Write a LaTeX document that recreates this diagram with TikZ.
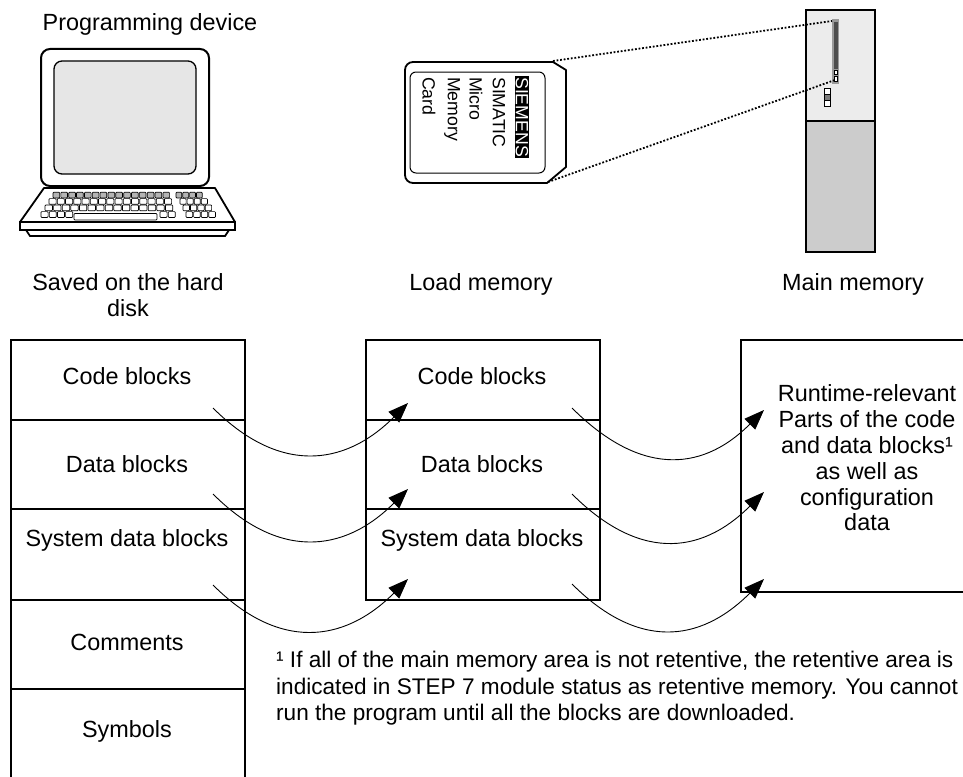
\documentclass[tikz,border=0pt]{standalone}
\usepackage{fontspec}
\setmainfont{Liberation Sans}
\usetikzlibrary{arrows.meta}
\definecolor{screengray}{HTML}{E6E6E6}
\definecolor{keygray}{HTML}{B4B4B4}
\definecolor{modlight}{HTML}{ECECEC}
\definecolor{moddark}{HTML}{CCCCCC}
\definecolor{slotrim}{HTML}{9A9A9A}
\definecolor{slotcore}{HTML}{4D4D4D}
\begin{document}
\begin{tikzpicture}[x=1pt,y=-1pt,
  txt/.style={font=\fontsize{23.4}{25.8}\selectfont, inner sep=0pt},
  lbl/.style={txt, anchor=base},
  cell/.style={draw, line width=1.7pt, minimum width=234pt, inner sep=0pt, anchor=north west},
  flow/.style={line width=0.9pt, -{Triangle[length=20pt,width=15pt]}},
  dots/.style={line width=1.8pt, dash pattern=on 1.8pt off 1.8pt},
  key/.style={draw, line width=0.7pt, rounded corners=0.8pt},
  cardtxt/.style={font=\fontsize{17.7}{20}\selectfont, rotate=-90, anchor=west, inner sep=0pt}]
\useasboundingbox (0,0) rectangle (963,776);
\clip (0,0) rectangle (963,776);

% ---------- programming device ----------
\node[txt] (pgTitle) at (150,24) {Programming device};
\draw[line width=2pt, fill=white, rounded corners=9pt] (41,49) rectangle (209,186);
\draw[line width=1.3pt, fill=screengray, rounded corners=8pt] (54,61) rectangle (196,174);
\draw[line width=1.8pt, fill=white, line join=round] (44,188) -- (215,188) -- (235,222) -- (20,222) -- cycle;
\draw[line width=1.8pt, fill=white] (20,222) rectangle (235,230);
\draw[line width=1.8pt] (26,230) -- (30,236) -- (225,236) -- (229,230);
% key rows
\foreach \i in {0,...,14} \draw[key, fill=keygray] ({53+\i*7.85},192.3) rectangle ++(6.7,5.6);
\foreach \i in {0,...,3}  \draw[key, fill=keygray] ({176+\i*6.8},192.3) rectangle ++(5.8,5.6);
\foreach \i in {0,...,14} \draw[key, fill=white] ({49+\i*8.25},198.6) rectangle ++(7.1,5.7);
\foreach \i in {0,...,3}  \draw[key, fill=white] ({180+\i*7.1},198.6) rectangle ++(6.1,5.7);
\foreach \i in {0,...,14} \draw[key, fill=white] ({45+\i*8.6},205) rectangle ++(7.4,5.8);
\foreach \i in {0,...,3}  \draw[key, fill=white] ({183+\i*7.4},205) rectangle ++(6.4,5.8);
\foreach \i in {0,...,3}  \draw[key, fill=white] ({41+\i*8.2},211.6) rectangle ++(7.1,5.8);
\draw[key, fill=white] (74,213.5) rectangle (157,220);
\foreach \i in {0,...,1}  \draw[key, fill=white] ({160+\i*8.2},211.6) rectangle ++(7.1,5.8);
\foreach \i in {0,...,3}  \draw[key, fill=white] ({186+\i*7.6},211.6) rectangle ++(6.6,5.8);

% ---------- memory card ----------
\draw[line width=1.8pt, fill=white, line join=round]
  (553,62) [rounded corners=8pt] -- (405,62) -- (405,183) -- (480,183)
  [sharp corners] -- (547,183) -- (566,167) -- (566,70) -- cycle;
\draw[line width=1pt, rounded corners=6pt] (410,72) rectangle (545,173);
\node[cardtxt, fill=black, text=white, inner xsep=1pt, inner ysep=1pt] (cSiemens) at (522,76) {SIEMENS};
\node[cardtxt] (cSimatic) at (499,77) {SIMATIC};
\node[cardtxt] (cMicro)   at (476,77) {Micro};
\node[cardtxt] (cMemory)  at (452,77) {Memory};
\node[cardtxt] (cCard)    at (429,77) {Card};

% ---------- CPU module ----------
\draw[line width=2pt, fill=modlight] (806,10) rectangle (875,121);
\draw[line width=2pt, fill=moddark] (806,121) rectangle (875,252);
\fill[slotrim] (832.3,19.5) rectangle (839.2,83.5);
\fill[slotcore] (833.8,21.7) rectangle (837.7,68.5);
\draw[line width=0.6pt, fill=white] (834,70) rectangle (837.6,74);
\draw[line width=0.6pt, fill=white] (834,75.8) rectangle (837.6,81);
\draw[line width=0.7pt, fill=white] (824.3,88.3) rectangle (830.3,94.3);
\draw[line width=0.7pt, fill=slotrim!80!black] (824.3,94.3) rectangle (830.3,100.5);
\draw[line width=0.7pt, fill=white] (824.3,100.5) rectangle (830.3,106.7);

% card slot projection
\coordinate (cardTop) at (553,61);
\coordinate (cardBot) at (548,182);
\coordinate (slotTop) at (832,21);
\coordinate (slotBot) at (835,80);
\draw[dots] (cardTop) -- (slotTop);
\draw[dots] (cardBot) -- (slotBot);

% ---------- captions ----------
\node[txt, align=center, anchor=base] (capDisk) at (128,316) {Saved on the hard\\disk};
\node[lbl] (capLoad) at (481,290) {Load memory};
\node[lbl] (capMain) at (853,290) {Main memory};

% ---------- hard disk column ----------
\node[cell, minimum height=80pt]  (lCode) at (10,339) {};
\node[cell, minimum height=89pt]  (lData) at (10,419) {};
\node[cell, minimum height=91pt]  (lSys)  at (10,508) {};
\node[cell, minimum height=89pt]  (lCom)  at (10,599) {};
\node[cell, minimum height=130pt] (lSym)  at (10,688) {};
\node[lbl] (tlCode) at (127,384.3) {Code blocks};
\node[lbl] (tlData) at (127,472.3) {Data blocks};
\node[lbl] (tlSys)  at (127,546.7) {System data blocks};
\node[lbl] (tlCom)  at (127,650)   {Comments};
\node[lbl] (tlSym)  at (127,737.3) {Symbols};

% ---------- load memory column ----------
\node[cell, minimum height=80pt] (mCode) at (365,339) {};
\node[cell, minimum height=89pt] (mData) at (365,419) {};
\node[cell, minimum height=91pt] (mSys)  at (365,508) {};
\node[lbl] (tmCode) at (482,384) {Code blocks};
\node[lbl] (tmData) at (482,472) {Data blocks};
\node[lbl] (tmSys)  at (482,546.7) {System data blocks};

% ---------- main memory ----------
\node[draw, line width=1.7pt, minimum width=270pt, minimum height=252pt, inner sep=0pt, anchor=north west] (rMain) at (740,339) {};
\node[txt, align=center] (tMain) at (867,458)
  {Runtime-relevant\\Parts of the code\\and data blocks¹\\as well as\\configuration\\data};

% ---------- transfer arrows ----------
\coordinate (a1s) at (213,408);  \coordinate (a1e) at (408,403);
\coordinate (a2s) at (213,494);  \coordinate (a2e) at (408,489);
\coordinate (a3s) at (213,585);  \coordinate (a3e) at (408,579);
\coordinate (b1s) at (572,408);  \coordinate (b1e) at (764,410);
\coordinate (b2s) at (572,494);  \coordinate (b2e) at (764,492);
\coordinate (b3s) at (572,584);  \coordinate (b3e) at (764,579);
\foreach \p in {a1,a2,a3,b1,b2,b3}
  \draw[flow] (\p s) .. controls +(65,65) and +(-65,65) .. (\p e);

% ---------- footnote ----------
\node[font=\fontsize{22.6}{26.6}\selectfont, inner sep=0pt, align=left, anchor=north west] (foot) at (276,651)
  {¹ If all of the main memory area is not retentive, the retentive area is\\
   indicated in STEP 7 module status as retentive memory. You cannot\\
   run the program until all the blocks are downloaded.};
\end{tikzpicture}
\end{document}
